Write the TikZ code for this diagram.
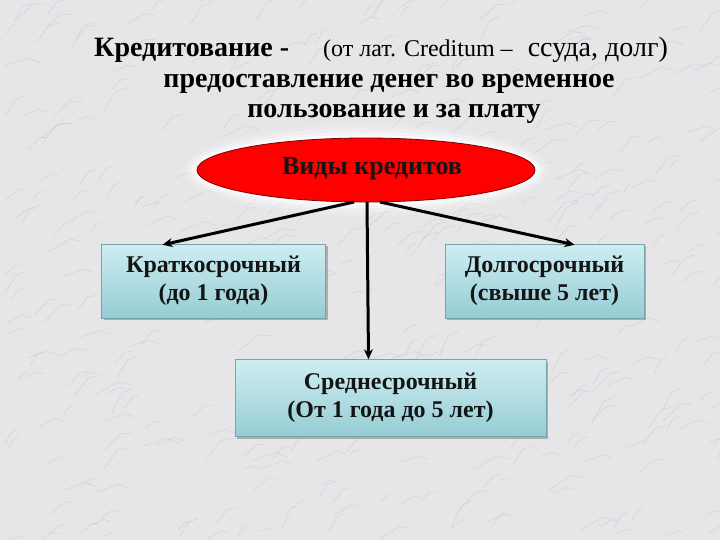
\documentclass[tikz,border=0pt]{standalone}
\usepackage{fontspec}
\setmainfont{Liberation Serif}
\usetikzlibrary{shadows,arrows.meta,shapes.geometric}
\definecolor{bgc}{RGB}{230,230,233}
\definecolor{vein}{RGB}{140,140,150}
\definecolor{boxtop}{RGB}{205,238,242}
\definecolor{boxbot}{RGB}{150,204,212}
\definecolor{txt}{RGB}{20,20,20}
\tikzset{
  box/.style={draw=boxbot!80!black, line width=0.4pt, top color=boxtop, bottom color=boxbot,
    drop shadow={shadow xshift=2pt, shadow yshift=-2pt, opacity=0.55},
    align=center, font=\fontsize{24}{28}\selectfont\bfseries, text=txt, inner sep=0pt},
  conn/.style={line width=3pt, -{Stealth[length=10pt,width=9pt]}},
  ttl/.style={font=\fontsize{28}{32}\selectfont\bfseries, text=black, inner sep=0pt}
}
\begin{document}
\begin{tikzpicture}[x=1pt,y=-1pt]
\fill[bgc] (0,0) rectangle (720,540);
\useasboundingbox (0,0) rectangle (720,540);
% marble texture
\pgfmathsetseed{42}
\foreach \i in {1,...,420}{
  \pgfmathsetmacro\px{rnd*720}
  \pgfmathsetmacro\py{rnd*540}
  \pgfmathsetmacro\ang{-(15+rnd*50)}
  \pgfmathsetmacro\len{8+rnd*18}
  \draw[vein, opacity=0.22, line width=0.5pt] (\px,\py) -- ++(\ang:\len) -- ++(\ang+40:{\len*0.5});
}
% title
\node[ttl, anchor=base west] (t1) at (94,57) {Кредитование -};
\node[anchor=base west, inner sep=0pt, font=\fontsize{24}{26}\selectfont] (t1b) at (323,57) {(от лат. Creditum –};
\node[anchor=base east, inner sep=0pt, font=\fontsize{28}{30}\selectfont] (t1c) at (668,57) {ссуда, долг)};
\node[ttl, anchor=base] (t2) at (389,88) {предоставление денег во временное};
\node[ttl, anchor=base] (t3) at (394,118) {пользование и за плату};
% ellipse glow
\foreach \s/\o in {14/0.15,10/0.25,6/0.4,3/0.6}
  \fill[white, opacity=\o] (366,170) ellipse ({169+\s} and {32+\s});
\node[draw=red!50!black, line width=0.8pt, fill=red, ellipse, minimum width=338pt, minimum height=64pt, inner sep=0pt] (e) at (366,170) {};
\node[font=\fontsize{26}{28}\selectfont\bfseries, text=txt, inner sep=0pt, anchor=base] (et) at (372,175) {Виды кредитов};
% boxes
\node[box, minimum width=224pt, minimum height=74pt] (l) at (213.5,281) {Краткосрочный\\(до 1 года)};
\node[box, minimum width=199pt, minimum height=74pt] (r) at (544.5,281) {Долгосрочный\\(свыше 5 лет)};
\node[box, minimum width=311pt, minimum height=77pt] (m) at (390.5,398) {Среднесрочный\\(От 1 года до 5 лет)};
% connectors
\coordinate (sl) at (354,202);
\coordinate (sm) at (367,202);
\coordinate (sr) at (380,202);
\draw[conn] (sl) -- ([xshift=-51pt,yshift=-1pt]l.north);
\draw[conn] (sr) -- ([xshift=30pt,yshift=-1pt]r.north);
\draw[conn] (sm) -- ([xshift=-22pt]m.north);
\end{tikzpicture}
\end{document}
